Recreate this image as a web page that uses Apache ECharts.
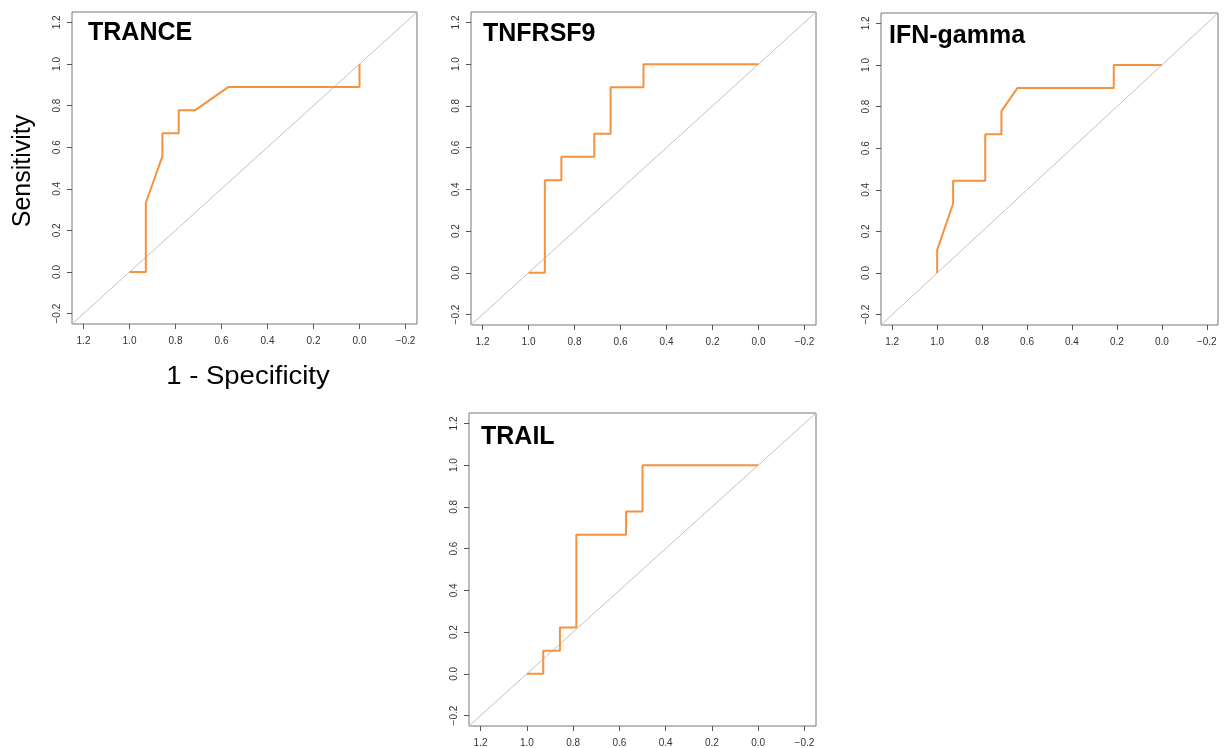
<!DOCTYPE html>
<html>
<head>
<meta charset="utf-8">
<title>ROC curves</title>
<script src="https://cdn.jsdelivr.net/npm/echarts@6/dist/echarts.min.js"></script>
<style>
  html, body { margin: 0; padding: 0; background: #fff; }
  #chart { width: 1225px; height: 748px; }
</style>
</head>
<body>
<div id="chart"></div>
<script>
// panel names
const markers = ['TRANCE', 'TNFRSF9', 'IFN-gamma', 'TRAIL']

// specificity (x, reversed) / sensitivity (y) of each ROC curve
const tranceSpec = [1.0, 0.929, 0.929, 0.857, 0.857, 0.786, 0.786, 0.714, 0.571, 0.0, 0.0]
const tranceSens = [0.0, 0.0, 0.333, 0.556, 0.667, 0.667, 0.778, 0.778, 0.889, 0.889, 1.0]

const tnfrsf9Spec = [1.0, 0.929, 0.929, 0.857, 0.857, 0.714, 0.714, 0.643, 0.643, 0.5, 0.5, 0.0]
const tnfrsf9Sens = [0.0, 0.0, 0.444, 0.444, 0.556, 0.556, 0.667, 0.667, 0.889, 0.889, 1.0, 1.0]

const ifngSpec = [1.0, 1.0, 0.929, 0.929, 0.786, 0.786, 0.714, 0.714, 0.643, 0.214, 0.214, 0.0]
const ifngSens = [0.0, 0.111, 0.333, 0.444, 0.444, 0.667, 0.667, 0.778, 0.889, 0.889, 1.0, 1.0]

const trailSpec = [1.0, 0.929, 0.929, 0.857, 0.857, 0.786, 0.786, 0.571, 0.571, 0.5, 0.5, 0.0]
const trailSens = [0.0, 0.0, 0.111, 0.111, 0.222, 0.222, 0.667, 0.667, 0.778, 0.778, 1.0, 1.0]

// chance line
const diagSpec = [1.25, -0.25]
const diagSens = [-0.25, 1.25]

// tick labels
const ticks = [-0.2, 0.0, 0.2, 0.4, 0.6, 0.8, 1.0, 1.2]

const curves = [
  [tranceSpec, tranceSens],
  [tnfrsf9Spec, tnfrsf9Sens],
  [ifngSpec, ifngSens],
  [trailSpec, trailSens]
]

// plot boxes in pixels
const boxes = [
  { left: 72, top: 12, width: 345, height: 312 },
  { left: 471, top: 12, width: 345, height: 313 },
  { left: 881, top: 13, width: 337, height: 312 },
  { left: 469, top: 413, width: 347, height: 313 }
]
const titlePos = [[88, 33], [483, 34], [889, 36], [481, 437]]

const FONT = '"Liberation Sans", Arial, Helvetica, sans-serif'
const fmt = v => v.toFixed(1).replace('-', '\u2212')

const zip = (a, b) => a.map((v, i) => [v, b[i]])

const grid = boxes.map(b => ({
  ...b,
  show: true,
  borderColor: '#777',
  borderWidth: 1,
  backgroundColor: 'transparent',
  containLabel: false
}))

const xAxis = boxes.map((b, i) => ({
  type: 'value',
  gridIndex: i,
  position: 'bottom',
  inverse: true,
  min: -0.25,
  max: 1.25,
  axisLine: { show: false, onZero: false },
  splitLine: { show: false },
  axisTick: {
    show: true,
    inside: false,
    customValues: ticks,
    length: 5,
    lineStyle: { color: '#555', width: 1 }
  },
  axisLabel: {
    customValues: ticks,
    formatter: fmt,
    fontSize: 10,
    color: '#333',
    fontFamily: FONT,
    margin: 12
  }
}))

const yAxis = boxes.map((b, i) => ({
  type: 'value',
  gridIndex: i,
  position: 'left',
  min: -0.25,
  max: 1.25,
  axisLine: { show: false, onZero: false },
  splitLine: { show: false },
  axisTick: {
    show: true,
    inside: false,
    customValues: ticks,
    length: 5,
    lineStyle: { color: '#555', width: 1 }
  },
  axisLabel: {
    customValues: ticks,
    formatter: fmt,
    rotate: 90,
    fontSize: 10,
    color: '#333',
    fontFamily: FONT,
    margin: 10
  }
}))

const series = []
curves.forEach((c, i) => {
  series.push({
    type: 'line',
    xAxisIndex: i,
    yAxisIndex: i,
    data: zip(diagSpec, diagSens),
    symbol: 'none',
    silent: true,
    lineStyle: { color: '#c2c2c2', width: 1 }
  })
  series.push({
    type: 'line',
    name: markers[i],
    xAxisIndex: i,
    yAxisIndex: i,
    data: zip(c[0], c[1]),
    symbol: 'none',
    lineStyle: { color: '#f5923e', width: 2 }
  })
})

const graphic = markers.map((m, i) => ({
  type: 'text',
  x: titlePos[i][0],
  y: titlePos[i][1],
  style: {
    text: m,
    fontSize: 25,
    fontWeight: 'bold',
    fontFamily: FONT,
    fill: '#000',
    align: 'left',
    verticalAlign: 'middle'
  }
}))
graphic.push({
  type: 'text',
  x: 23,
  y: 171,
  rotation: Math.PI / 2,
  style: {
    text: 'Sensitivity',
    fontSize: 25,
    fontFamily: FONT,
    fill: '#000',
    align: 'center',
    verticalAlign: 'middle'
  }
})
graphic.push({
  type: 'text',
  x: 248,
  y: 377,
  scaleX: 1.1,
  style: {
    text: '1 - Specificity',
    fontSize: 25,
    fontFamily: FONT,
    fill: '#000',
    align: 'center',
    verticalAlign: 'middle'
  }
})

const chart = echarts.init(document.getElementById('chart'), null, { renderer: 'canvas' })
chart.setOption({
  animation: false,
  backgroundColor: '#fff',
  grid,
  xAxis,
  yAxis,
  series,
  graphic
})
</script>
</body>
</html>
